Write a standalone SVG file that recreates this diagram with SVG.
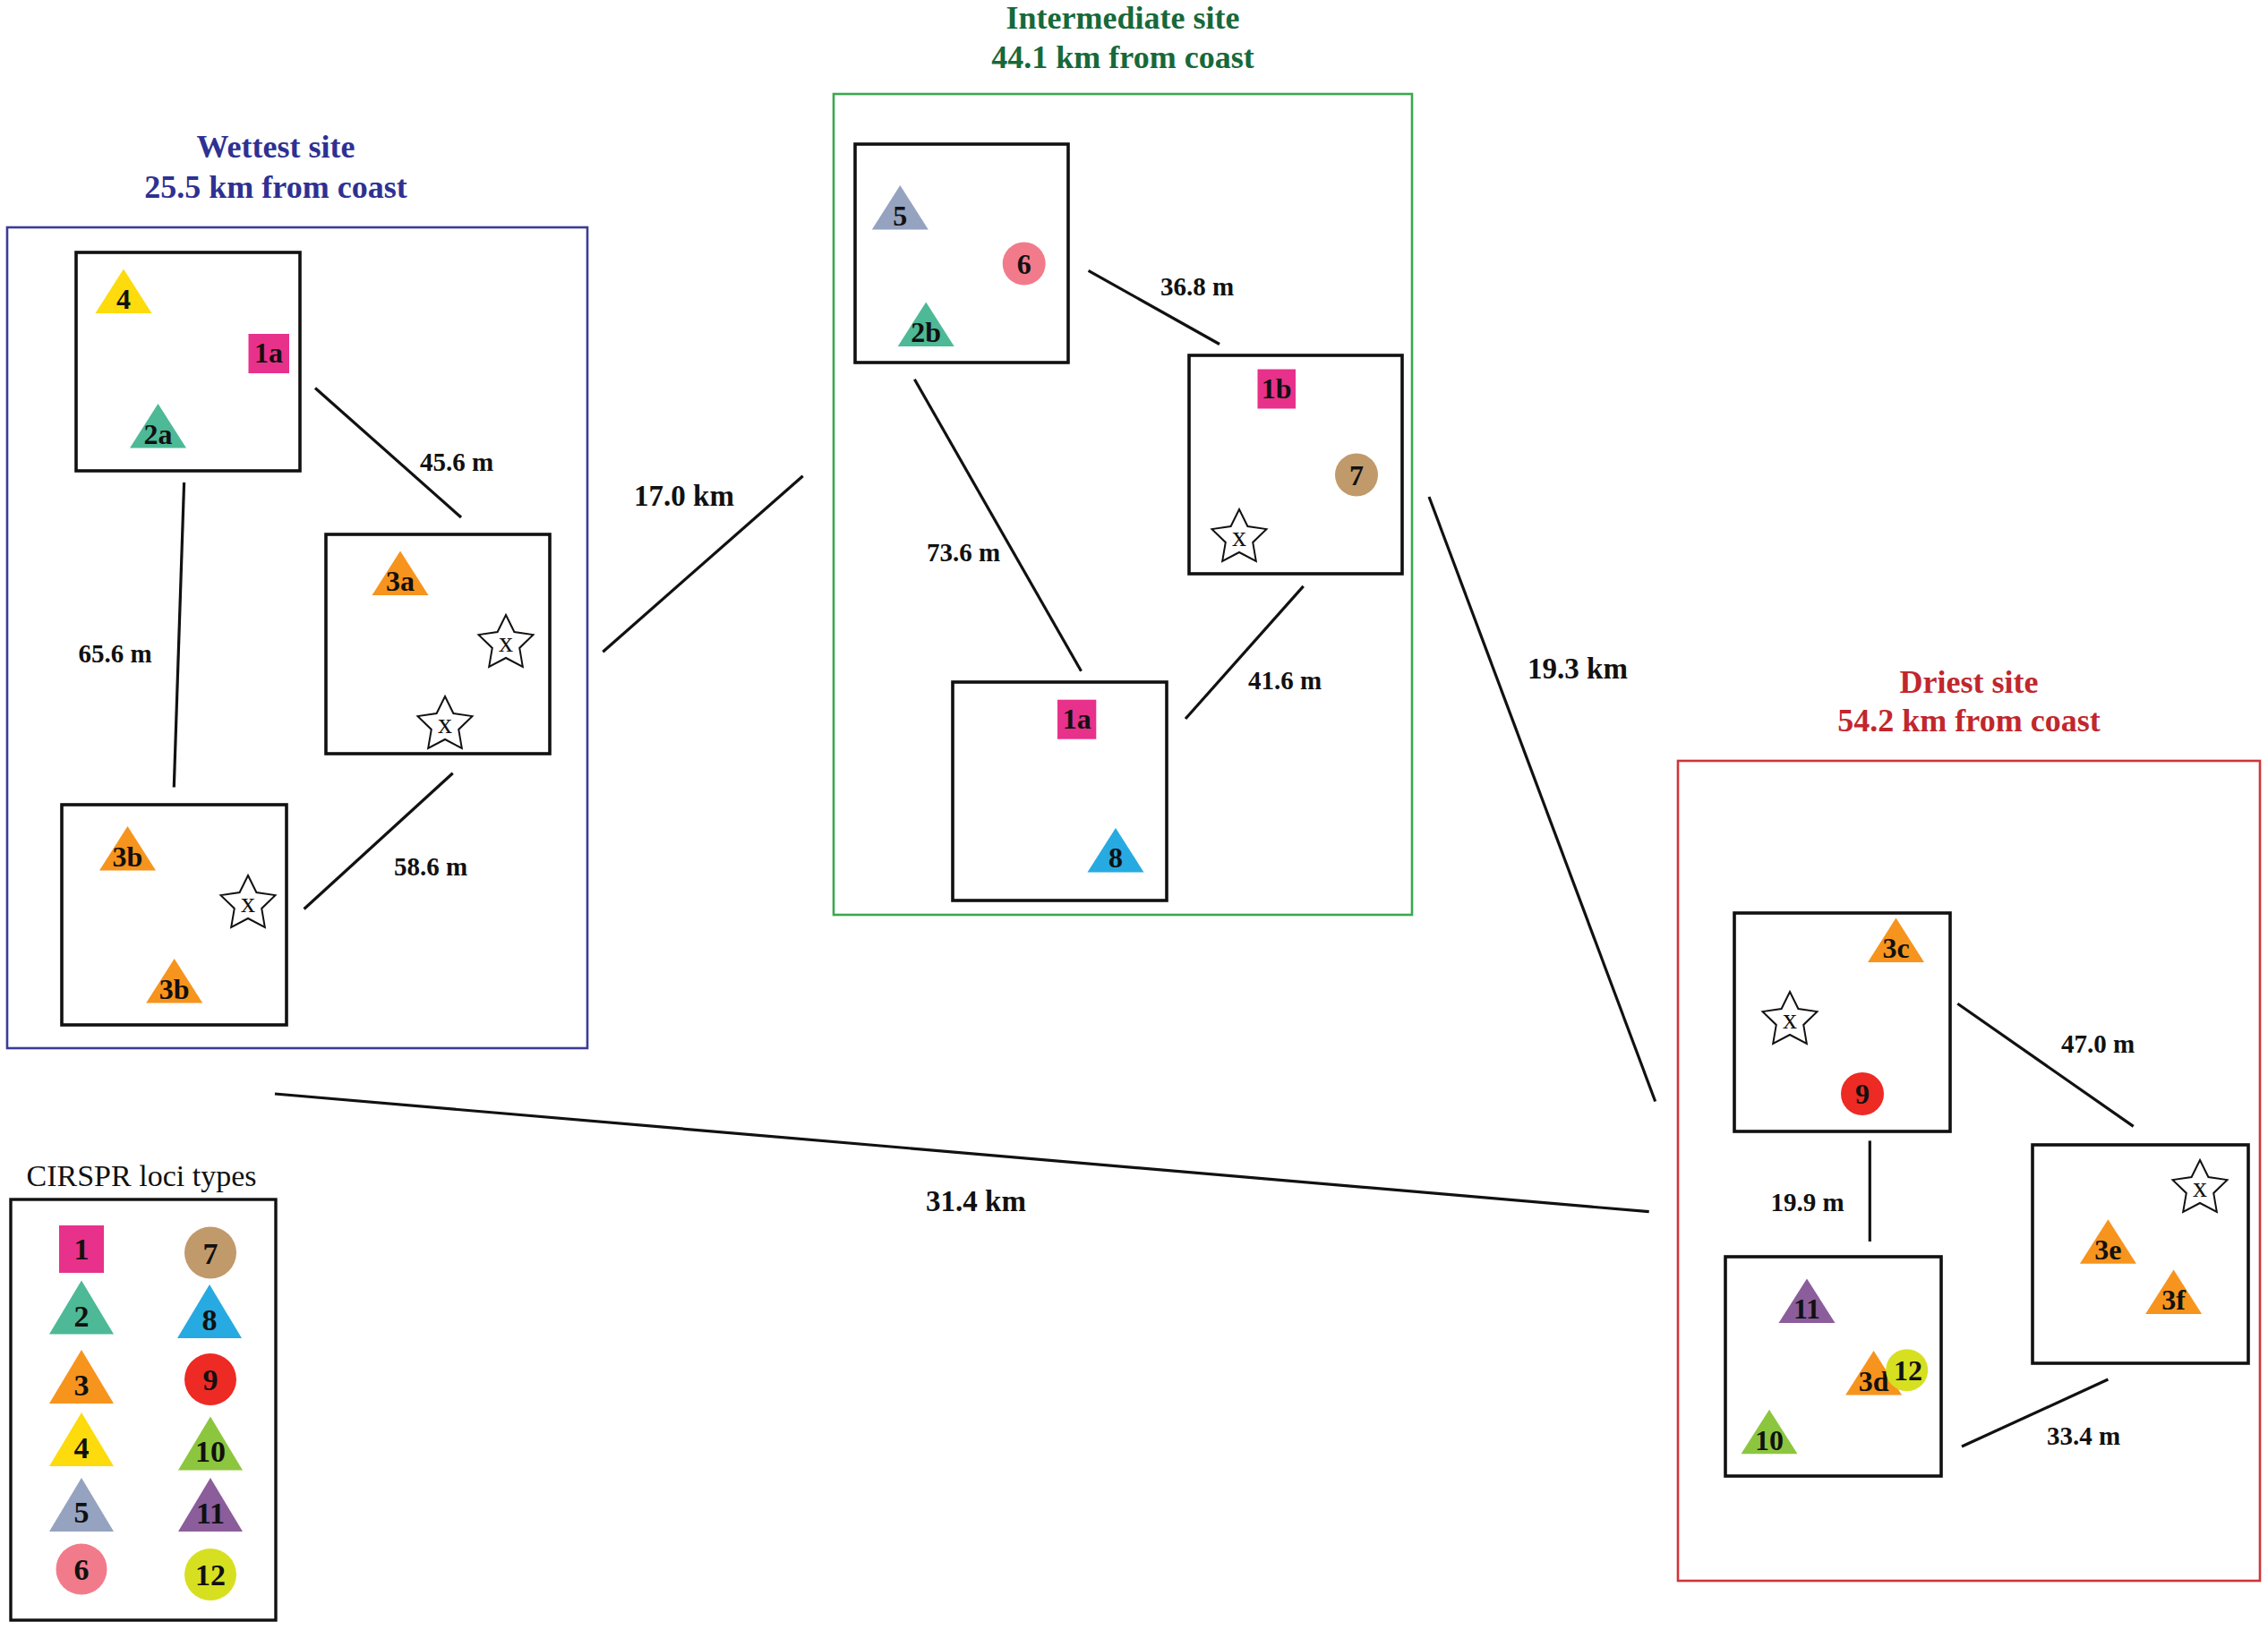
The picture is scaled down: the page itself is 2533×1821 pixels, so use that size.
<svg xmlns="http://www.w3.org/2000/svg" xmlns:xlink="http://www.w3.org/1999/xlink" width="2533" height="1821" viewBox="0 0 2533 1821">
<style>
.bg{fill:#ffffff}
.site{fill:none;stroke-width:2.6}
.plot{fill:none;stroke:#111;stroke-width:3.6}
.leg{fill:none;stroke:#111;stroke-width:3.4}
.conn line{stroke:#111;stroke-width:3.2;stroke-linecap:butt}
.t{font-family:"Liberation Serif","Times New Roman",serif;font-weight:bold;text-anchor:middle}
.title{font-size:36px}
.km{font-size:33px;fill:#111}
.m{font-size:29px;fill:#111}
.lab{font-size:32px;fill:#111}
.llab{font-size:34px;fill:#111}
.xs{font-family:"Liberation Serif","Times New Roman",serif;font-size:32px;text-anchor:middle;fill:#111}
.star{fill:#fff;stroke:#111;stroke-width:2}
.c1{fill:#e8318b}.c2{fill:#4db996}.c3{fill:#f7941d}.c4{fill:#fddb0c}.c5{fill:#95a3c0}.c6{fill:#f27b8b}
.c7{fill:#c19a6b}.c8{fill:#27aae1}.c9{fill:#ed2a24}.c10{fill:#8cc63f}.c11{fill:#8b5d9b}.c12{fill:#d6e021}
</style>
<defs>
<path id="tri" d="M0,0 L31.5,49.5 L-31.5,49.5 Z"/>
<path id="triL" d="M0,0 L36,60 L-36,60 Z"/>
<path id="star" d="M0,-32 L9.4,-12.94 L30.43,-9.89 L15.22,4.94 L18.81,25.89 L0,16 L-18.81,25.89 L-15.22,4.94 L-30.43,-9.89 L-9.4,-12.94 Z"/>
</defs>
<rect class="bg" x="0" y="0" width="2533" height="1821"/>

<!-- Site frames and titles -->
<g id="site-wettest">
<rect class="site" x="8" y="254" width="648" height="917" stroke="#3b3b9a"/>
<text class="t title" x="308" y="176" fill="#2e3192">Wettest site</text>
<text class="t title" x="308" y="221" fill="#2e3192">25.5 km from coast</text>
</g>
<g id="site-intermediate">
<rect class="site" x="931" y="105" width="646" height="917" stroke="#3aa84f"/>
<text class="t title" x="1254" y="32" fill="#17693a">Intermediate site</text>
<text class="t title" x="1254" y="76" fill="#17693a">44.1 km from coast</text>
</g>
<g id="site-driest">
<rect class="site" x="1874" y="850" width="650" height="916" stroke="#d03438"/>
<text class="t title" x="2199" y="774" fill="#c1272d">Driest site</text>
<text class="t title" x="2199" y="817" fill="#c1272d">54.2 km from coast</text>
</g>

<!-- Connectors -->
<g id="connectors" class="conn">
<line x1="352" y1="433.5" x2="515" y2="578"/>
<line x1="205.6" y1="539" x2="194.3" y2="879.5"/>
<line x1="505.7" y1="863.7" x2="339.6" y2="1015.5"/>
<line x1="896.7" y1="531.7" x2="673.3" y2="728.3"/>
<line x1="1215.6" y1="302.4" x2="1362" y2="384.5"/>
<line x1="1021.4" y1="423.8" x2="1207.5" y2="749.8"/>
<line x1="1455.7" y1="654.9" x2="1324" y2="803"/>
<line x1="1596" y1="555" x2="1848.7" y2="1230.5"/>
<line x1="307" y1="1222" x2="1841.7" y2="1353.7"/>
<line x1="2186.3" y1="1121.3" x2="2382.7" y2="1258.4"/>
<line x1="2088.3" y1="1274.4" x2="2088.3" y2="1387"/>
<line x1="2354.4" y1="1541" x2="2191" y2="1616"/>
<text class="t m" x="510" y="526">45.6 m</text>
<text class="t m" x="128.5" y="740">65.6 m</text>
<text class="t m" x="481" y="978">58.6 m</text>
<text class="t km" x="764" y="565">17.0 km</text>
<text class="t m" x="1337" y="330">36.8 m</text>
<text class="t m" x="1076" y="627">73.6 m</text>
<text class="t m" x="1435" y="770">41.6 m</text>
<text class="t km" x="1762" y="758">19.3 km</text>
<text class="t km" x="1090" y="1353">31.4 km</text>
<text class="t m" x="2343" y="1176">47.0 m</text>
<text class="t m" x="2018.5" y="1353">19.9 m</text>
<text class="t m" x="2327" y="1614">33.4 m</text>
</g>

<!-- Wettest plots -->
<g id="plot-w1">
<rect class="plot" x="85" y="282" width="250" height="244"/>
<use href="#tri" x="138" y="300.5" class="c4"/><text class="t lab" x="138" y="345">4</text>
<rect class="c1" x="277.5" y="373" width="45.5" height="44"/><text class="t lab" x="300" y="405">1a</text>
<use href="#tri" x="176.5" y="451" class="c2"/><text class="t lab" x="176.5" y="495.5">2a</text>
</g>
<g id="plot-w2">
<rect class="plot" x="364" y="597" width="250" height="245"/>
<use href="#tri" x="447" y="615.5" class="c3"/><text class="t lab" x="447" y="660">3a</text>
<use href="#star" x="565" y="719" class="star"/><text class="xs" x="565" y="728">x</text>
<use href="#star" x="497" y="810" class="star"/><text class="xs" x="497" y="819">x</text>
</g>
<g id="plot-w3">
<rect class="plot" x="69" y="899" width="251" height="246"/>
<use href="#tri" x="142.5" y="923" class="c3"/><text class="t lab" x="142.5" y="967.5">3b</text>
<use href="#star" x="277" y="1010" class="star"/><text class="xs" x="277" y="1019">x</text>
<use href="#tri" x="194.7" y="1071" class="c3"/><text class="t lab" x="194.7" y="1115.5">3b</text>
</g>

<!-- Intermediate plots -->
<g id="plot-i1">
<rect class="plot" x="955" y="161" width="238" height="244"/>
<use href="#tri" x="1005.3" y="207" class="c5"/><text class="t lab" x="1005.3" y="251.5">5</text>
<circle class="c6" cx="1143.7" cy="294.5" r="24"/><text class="t lab" x="1143.7" y="305.5">6</text>
<use href="#tri" x="1034.2" y="337.5" class="c2"/><text class="t lab" x="1034.2" y="382">2b</text>
</g>
<g id="plot-i2">
<rect class="plot" x="1328" y="397" width="238" height="244"/>
<rect class="c1" x="1404.5" y="412.5" width="42.5" height="44"/><text class="t lab" x="1425.7" y="444.5">1b</text>
<circle class="c7" cx="1515" cy="530.5" r="24"/><text class="t lab" x="1515" y="541.5">7</text>
<use href="#star" x="1384" y="601" class="star"/><text class="xs" x="1384" y="610">x</text>
</g>
<g id="plot-i3">
<rect class="plot" x="1064" y="762" width="239" height="244"/>
<rect class="c1" x="1181" y="781.7" width="43.3" height="44"/><text class="t lab" x="1202.7" y="813.5">1a</text>
<use href="#tri" x="1246" y="925" class="c8"/><text class="t lab" x="1246" y="969">8</text>
</g>

<!-- Driest plots -->
<g id="plot-d1">
<rect class="plot" x="1937" y="1020" width="241" height="244"/>
<use href="#tri" x="2117.5" y="1025.5" class="c3"/><text class="t lab" x="2117.5" y="1070">3c</text>
<use href="#star" x="1999" y="1140" class="star"/><text class="xs" x="1999" y="1149">x</text>
<circle class="c9" cx="2080" cy="1222" r="24"/><text class="t lab" x="2080" y="1233">9</text>
</g>
<g id="plot-d2">
<rect class="plot" x="2270" y="1279" width="241" height="244"/>
<use href="#star" x="2457" y="1328" class="star"/><text class="xs" x="2457" y="1337">x</text>
<use href="#tri" x="2354.4" y="1362.3" class="c3"/><text class="t lab" x="2354.4" y="1407">3e</text>
<use href="#tri" x="2427.6" y="1418.4" class="c3"/><text class="t lab" x="2427.6" y="1463">3f</text>
</g>
<g id="plot-d3">
<rect class="plot" x="1927" y="1404" width="241" height="245"/>
<use href="#tri" x="2018" y="1428.4" class="c11"/><text class="t lab" x="2018" y="1473">11</text>
<use href="#tri" x="2092.6" y="1509" class="c3"/><text class="t lab" x="2092.6" y="1554">3d</text>
<circle class="c12" cx="2129.7" cy="1530.7" r="23.5"/><text class="t lab" x="2131" y="1541.5">12</text>
<use href="#tri" x="1976" y="1574.8" class="c10"/><text class="t lab" x="1976" y="1619.5">10</text>
</g>

<!-- Legend -->
<g id="legend">
<text x="158" y="1325" font-family="'Liberation Serif','Times New Roman',serif" font-size="34" text-anchor="middle" fill="#111">CIRSPR loci types</text>
<rect class="leg" x="12" y="1340" width="296" height="470"/>
<rect class="c1" x="66" y="1369" width="50" height="53"/><text class="t llab" x="91" y="1407">1</text>
<use href="#triL" x="91" y="1430.5" class="c2"/><text class="t llab" x="91" y="1482">2</text>
<use href="#triL" x="91" y="1508" class="c3"/><text class="t llab" x="91" y="1559">3</text>
<use href="#triL" x="91" y="1578" class="c4"/><text class="t llab" x="91" y="1629">4</text>
<use href="#triL" x="91" y="1651" class="c5"/><text class="t llab" x="91" y="1701">5</text>
<circle class="c6" cx="91" cy="1753" r="28.5"/><text class="t llab" x="91" y="1765">6</text>
<circle class="c7" cx="235" cy="1399.5" r="29"/><text class="t llab" x="235" y="1411.5">7</text>
<use href="#triL" x="234" y="1435" class="c8"/><text class="t llab" x="234" y="1486">8</text>
<circle class="c9" cx="235" cy="1541" r="29"/><text class="t llab" x="235" y="1553">9</text>
<use href="#triL" x="235" y="1582.5" class="c10"/><text class="t llab" x="235" y="1633">10</text>
<use href="#triL" x="235" y="1651" class="c11"/><text class="t llab" x="235" y="1702">11</text>
<circle class="c12" cx="235" cy="1759" r="29"/><text class="t llab" x="235" y="1771">12</text>
</g>
</svg>
